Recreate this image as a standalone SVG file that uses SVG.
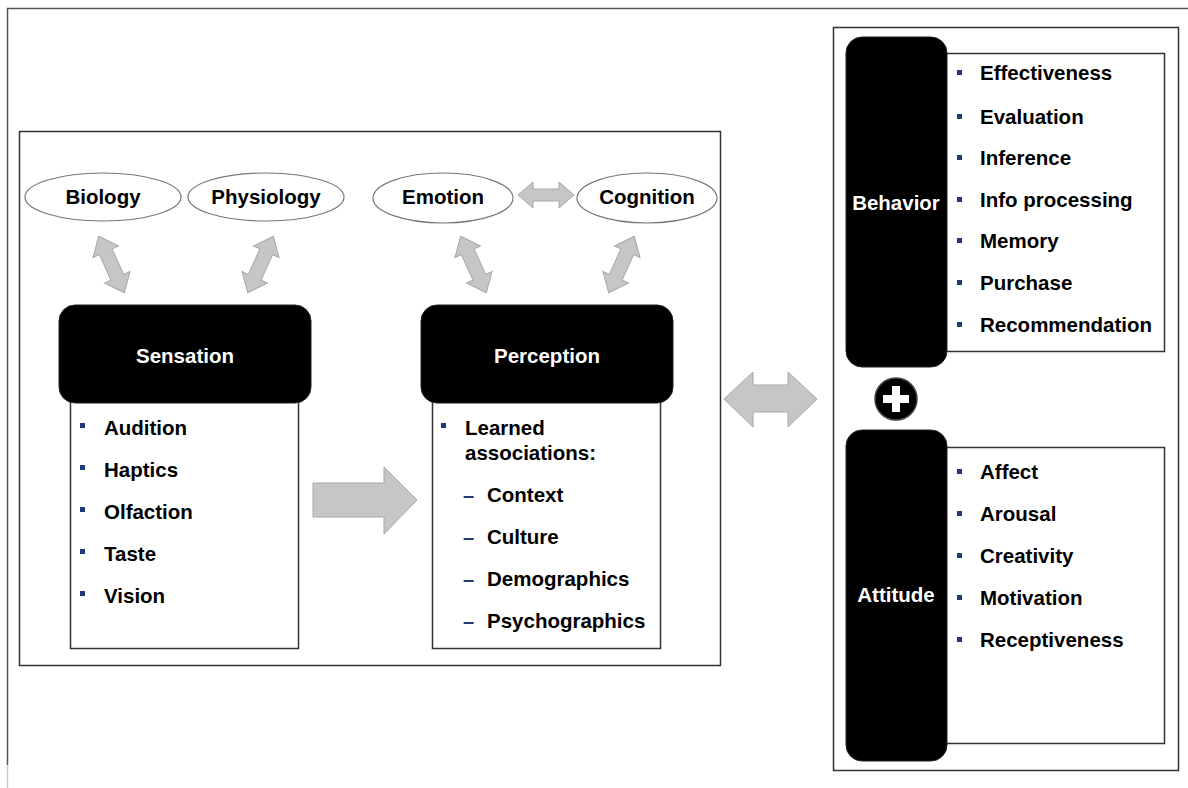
<svg xmlns="http://www.w3.org/2000/svg" xmlns:xlink="http://www.w3.org/1999/xlink" width="1188" height="788" viewBox="0 0 1188 788">
<style>
.t{font-family:"Liberation Sans",Arial,sans-serif;font-weight:bold;font-size:20.5px;fill:#000}
.w{font-family:"Liberation Sans",Arial,sans-serif;font-weight:bold;font-size:20.5px;fill:#fff}
.box{fill:#fff;stroke:#333;stroke-width:1.5}
.blk{fill:#000;stroke:#222;stroke-width:1}
.ell{fill:#fff;stroke:#777;stroke-width:1.2}
.arr{fill:#c6c6c6;stroke:#a8a8a8;stroke-width:1}
.bul{fill:#1f3a78}
.dash{font-family:"Liberation Sans",Arial,sans-serif;font-weight:bold;font-size:20px;fill:#1f3a78}
</style>
<defs>
<path id="dbl" d="M-31,0 L-14,-14 L-14,-7 L14,-7 L14,-14 L31,0 L14,14 L14,7 L-14,7 L-14,14 Z"/>
<rect id="b" width="5" height="5"/>
</defs>
<rect width="1188" height="788" fill="#fff"/>
<path d="M7.5,765 V8.5 H1188" fill="none" stroke="#555" stroke-width="1.5"/>
<path d="M7.5,765 V788" fill="none" stroke="#ccc" stroke-width="1.5"/>

<rect id="left-panel" class="box" x="19.5" y="131.5" width="701" height="534"/>
<rect id="right-panel" class="box" x="833.5" y="27.5" width="345" height="743"/>

<g id="connectors">
<use xlink:href="#dbl" class="arr" transform="translate(111.5,264.5) rotate(65.6)"/>
<use xlink:href="#dbl" class="arr" transform="translate(260.5,264.5) rotate(-65.6)"/>
<use xlink:href="#dbl" class="arr" transform="translate(473.5,264.5) rotate(65.6)"/>
<use xlink:href="#dbl" class="arr" transform="translate(621.5,264.5) rotate(-65.6)"/>
<path class="arr" d="M518,195 L533,182 L533,189 L559,189 L559,182 L574,195 L559,208 L559,201 L533,201 L533,208 Z"/>
<path class="arr" d="M313,483 L384,483 L384,467 L417,500 L384,534 L384,517 L313,517 Z"/>
<path class="arr" d="M724,399 L753,372 L753,385 L788,385 L788,372 L817,399 L788,427 L788,412 L753,412 L753,427 Z"/>
</g>

<g id="biology"><ellipse class="ell" cx="103" cy="197" rx="78" ry="24"/><text class="t" x="103" y="204" text-anchor="middle">Biology</text></g>
<g id="physiology"><ellipse class="ell" cx="266" cy="197" rx="78" ry="24"/><text class="t" x="266" y="204" text-anchor="middle">Physiology</text></g>
<g id="emotion"><ellipse class="ell" cx="443" cy="198" rx="70" ry="25"/><text class="t" x="443" y="204" text-anchor="middle">Emotion</text></g>
<g id="cognition"><ellipse class="ell" cx="647" cy="198" rx="70" ry="25"/><text class="t" x="647" y="204" text-anchor="middle">Cognition</text></g>

<g id="sensation">
<rect class="box" x="70.5" y="390.5" width="228" height="258"/>
<rect class="blk" x="59" y="305" width="252" height="98" rx="16"/>
<text class="w" x="185" y="363" text-anchor="middle">Sensation</text>
<use xlink:href="#b" class="bul" x="80" y="423"/><text class="t" x="104" y="435">Audition</text>
<use xlink:href="#b" class="bul" x="80" y="465"/><text class="t" x="104" y="477">Haptics</text>
<use xlink:href="#b" class="bul" x="80" y="507"/><text class="t" x="104" y="519">Olfaction</text>
<use xlink:href="#b" class="bul" x="80" y="549"/><text class="t" x="104" y="561">Taste</text>
<use xlink:href="#b" class="bul" x="80" y="591"/><text class="t" x="104" y="603">Vision</text>
</g>

<g id="perception">
<rect class="box" x="432.5" y="390.5" width="228" height="258"/>
<rect class="blk" x="421" y="305" width="252" height="98" rx="16"/>
<text class="w" x="547" y="363" text-anchor="middle">Perception</text>
<use xlink:href="#b" class="bul" x="441" y="423"/><text class="t" x="465" y="435">Learned</text>
<text class="t" x="465" y="460">associations:</text>
<text class="dash" x="463" y="502">–</text><text class="t" x="487" y="502">Context</text>
<text class="dash" x="463" y="544">–</text><text class="t" x="487" y="544">Culture</text>
<text class="dash" x="463" y="586">–</text><text class="t" x="487" y="586">Demographics</text>
<text class="dash" x="463" y="628">–</text><text class="t" x="487" y="628">Psychographics</text>
</g>

<g id="behavior">
<rect class="box" x="940.5" y="53.5" width="224" height="298"/>
<rect class="blk" x="846" y="37" width="101" height="330" rx="16"/>
<text class="w" x="896" y="210" text-anchor="middle">Behavior</text>
<use xlink:href="#b" class="bul" x="957" y="70"/><text class="t" x="980" y="80">Effectiveness</text>
<use xlink:href="#b" class="bul" x="957" y="114"/><text class="t" x="980" y="124">Evaluation</text>
<use xlink:href="#b" class="bul" x="957" y="155"/><text class="t" x="980" y="165">Inference</text>
<use xlink:href="#b" class="bul" x="957" y="197"/><text class="t" x="980" y="207">Info processing</text>
<use xlink:href="#b" class="bul" x="957" y="238"/><text class="t" x="980" y="248">Memory</text>
<use xlink:href="#b" class="bul" x="957" y="280"/><text class="t" x="980" y="290">Purchase</text>
<use xlink:href="#b" class="bul" x="957" y="322"/><text class="t" x="980" y="332">Recommendation</text>
</g>

<g id="plus">
<circle cx="896" cy="399" r="21" fill="#000" stroke="#444" stroke-width="1.5"/>
<path d="M892,386 H900 V395 H909 V403 H900 V412 H892 V403 H883 V395 H892 Z" fill="#fff"/>
</g>

<g id="attitude">
<rect class="box" x="940.5" y="447.5" width="224" height="296"/>
<rect class="blk" x="846" y="430" width="101" height="331" rx="16"/>
<text class="w" x="896" y="602" text-anchor="middle">Attitude</text>
<use xlink:href="#b" class="bul" x="957" y="469"/><text class="t" x="980" y="479">Affect</text>
<use xlink:href="#b" class="bul" x="957" y="511"/><text class="t" x="980" y="521">Arousal</text>
<use xlink:href="#b" class="bul" x="957" y="553"/><text class="t" x="980" y="563">Creativity</text>
<use xlink:href="#b" class="bul" x="957" y="595"/><text class="t" x="980" y="605">Motivation</text>
<use xlink:href="#b" class="bul" x="957" y="637"/><text class="t" x="980" y="647">Receptiveness</text>
</g>
</svg>
